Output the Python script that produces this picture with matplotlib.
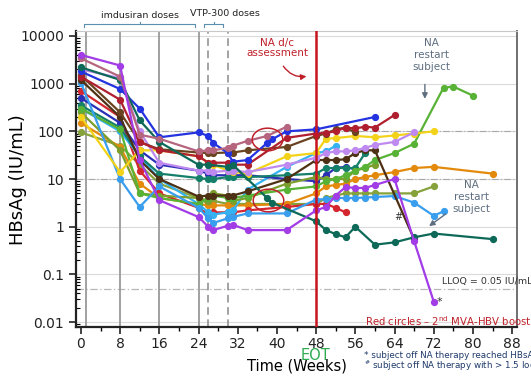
import matplotlib
matplotlib.use("Agg")
import matplotlib.pyplot as plt
import numpy as np
from matplotlib.path import Path
from matplotlib.ticker import FixedLocator, FixedFormatter, LogLocator, NullFormatter, MultipleLocator

n = None
weeks = [0, 8, 12, 16, 24, 26, 27, 30, 31, 34, 38, 39, 42, 48, 50, 52, 54, 56, 58, 60, 64, 68, 72, 74, 76, 80, 84]

#                 0     8     12   16   24   26   27   30    31   34    38   39   42    48   50   52   54   56   58   60   64   68    72     74   76   80   84
purple_star   = [4000, 2400, 25,  3.6, 1.6, 1.0, 0.85, 1.05, 1.1, 0.85, n,   n,   0.85, 2.2, 2.6, 4.5, 6.8, 6.5, 6.5, 7.5, 10,  0.5,  0.027, n,   n,   n,   n]
mauve         = [3400, 1400, 85,  70,  38,  40,  40,   45,   50,  63,   80,  n,   125,  n,   n,   n,   n,   n,   n,   n,   n,   n,    n,     n,   n,   n,   n]
teal_restart  = [2200, 1200, 170, 60,  20,  20,  n,    18,   20,  n,    4,   3.2, n,    1.3, 0.85,0.7, 0.6, 1.0, n,   0.42,0.47,0.6,  0.72,  n,   n,   n,   0.55]
blue          = [1800, 770,  300, 75,  95,  80,  57,   35,   23,  25,   57,  68,  100,  110, n,   n,   n,   n,   n,   200, n,   n,    n,     n,   n,   n,   n]
darkred       = [1400, 460,  60,  40,  30,  22,  22,   22,   20,  20,   n,   n,   73,   90,  93,  100, 120, 115, 125, 120, 220, n,    n,     n,   n,   n,   n]
brown         = [1500, 250,  60,  42,  36,  35,  35,   36,   36,  40,   n,   n,   47,   80,  90,  110, 120, 95,  n,   n,   n,   n,    n,     n,   n,   n,   n]
lavender      = [2000, 1300, 100, 22,  15,  15,  14,   15,   15,  14,   n,   n,   20,   28,  35,  38,  38,  40,  45,  52,  60,  95,   n,     n,   n,   n,   n]
yellow        = [200,  14,   40,  40,  30,  22,  20,   15,   14,  13,   n,   n,   30,   35,  70,  72,  n,   80,  n,   75,  82,  90,   100,   n,   n,   n,   n]
lightblue     = [1050, 10,   2.6, 7,   2.5, 1.5, 1.2,  1.5,  1.6, 1.9,  n,   n,   1.9,  3.7, 3.8, 4.0, 4.0, 4.0, 4.1, 4.2, 4.4, 3.2,  1.7,   2.1, n,   n,   n]
skyblue       = [300,  100,  30,  10,  3,   2,   1.8,  2,    2.2, 6,    n,   n,   18,   35,  38,  50,  n,   n,   n,   n,   n,   n,    n,     n,   n,   n,   n]
orange        = [150,  47,   8,   4,   3,   2.8, 2.8,  2.8,  2.8, 2.8,  n,   n,   3,    5,   7,   7.5, 8,   10,  11,  12,  14,  17,   18,    n,   n,   n,   13]
green         = [300,  110,  5,   4,   3,   4,   4.5,  4,    4,   4.5,  n,   n,   6,    7,   9,   10,  12,  15,  18,  25,  35,  55,   n,     820, 870, 560, n]
olive         = [250,  40,   5,   4.5, 4,   3.5, 5,    4.5,  3.5, 4,    n,   n,   8,    11,  10,  10,  10,  15,  17,  20,  n,   n,    n,     n,   n,   n,   n]
olive2        = [95,   50,   20,  8,   4,   3,   3.5,  3,    3,   3,    n,   n,   3,    3,   4,   4.5, 5,   5,   5,   5,   5,   5,    7,     n,   n,   n,   n]
red           = [700,  200,  15,  5,   2.5, 1.8, 2,    2,    2,   2.2,  n,   n,   2.6,  3,   3,   2.5, 2,   n,   n,   n,   n,   n,    n,     n,   n,   n,   n]
teal2         = [350,  120,  30,  13,  10.5,10,  10,   11,   11,  11,   n,   n,   12,   13,  17,  17,  17,  17,  35,  n,   n,   n,    n,     n,   n,   n,   n]
darkbrown     = [1200, 200,  25,  10,  4.3, 4.5, 4.5,  4.5,  4.5, 5.5,  n,   n,   10,   25,  25,  25,  26,  35,  40,  40,  n,   0.55, n,     n,   n,   n,   n]
navy          = [500,  150,  40,  20,  15,  13,  12,   12,   12,  12,   n,   n,   10,   9,   12,  17,  18,  16,  n,   n,   n,   n,    n,     n,   n,   n,   n]

series = [
    (olive2, "#86A23A"), (orange, "#E38A0C"), (red, "#D4262E"), (skyblue, "#35B2F2"),
    (navy, "#2B2FB5"), (teal2, "#14806A"), (olive, "#7C9E2C"), (green, "#58B235"),
    (lightblue, "#3A9EEE"), (yellow, "#F3D21A"), (darkbrown, "#4E3014"), (lavender, "#BE8AF0"),
    (brown, "#6A4420"), (darkred, "#B01F30"), (blue, "#2433E0"), (teal_restart, "#0E6A58"),
    (mauve, "#B6657F"), (purple_star, "#A23CE6"),
]

y_ticks = [0.01, 0.1, 1, 10, 100, 1000, 10000]
y_labels = ["0.01", "0.1", "1", "10", "100", "1000", "10000"]
x_ticks = [0, 8, 16, 24, 32, 40, 48, 56, 64, 72, 80, 88]
dose_lines = [1, 8, 16, 24]
vtp_lines = [26, 30]
eot_week = 48
lloq = 0.05
boost_circles_x = [38, 38.2]
boost_circles_y = [69, 3.6]

W, H = 531, 376
fig = plt.figure(figsize=(W / 100, H / 100), dpi=100)
ax = fig.add_axes([76 / W, 1 - 327 / H, (517 - 76) / W, (327 - 31) / H])
ax.set_yscale("log")
ax.set_xlim(-1, 89)
ax.set_ylim(0.0079, 12700)

# grid
for yt in y_ticks:
    ax.axhline(yt, color="#DADADA", lw=0.8, zorder=0)
for yt in [10, 100]:
    ax.axhline(yt, color="#A8A8A8", lw=0.8, ls=(0, (6, 2, 1, 2)), zorder=0.5)
ax.axhline(lloq, color="#B8B8B8", lw=0.9, ls=(0, (6, 2, 1, 2)), zorder=0.5)

for xv in dose_lines:
    ax.axvline(xv, color="#9A9A9A", lw=1.3, zorder=1)
for xv in vtp_lines:
    ax.axvline(xv, color="#8A8A8A", lw=1.1, ls=(0, (5, 3)), zorder=1)

wk = np.array(weeks, dtype=float)
for vals, col in series:
    v = np.array([np.nan if x is None else x for x in vals], dtype=float)
    m = ~np.isnan(v)
    ax.plot(wk[m], v[m], "-o", color=col, lw=1.6, ms=4.2, zorder=3)

ax.axvline(eot_week, color="#C8141E", lw=1.8, zorder=4)

# ellipses
t = np.linspace(0, 2 * np.pi, 60)
ell = Path(np.column_stack([1.35 * np.cos(t), np.sin(t)]), closed=True)
ax.plot(boost_circles_x, boost_circles_y, ls="none", marker=ell, ms=22, mfc="none",
        mec="#C0202A", mew=1.1, zorder=5)

# ticks
ax.yaxis.set_major_locator(FixedLocator(y_ticks))
ax.yaxis.set_major_formatter(FixedFormatter(y_labels))
ax.yaxis.set_minor_locator(LogLocator(base=10, subs=np.arange(2, 10)))
ax.yaxis.set_minor_formatter(NullFormatter())
ax.set_xticks(x_ticks)
ax.xaxis.set_minor_locator(MultipleLocator(4))
ax.tick_params(axis="both", which="major", labelsize=10, length=5, width=1.2, direction="out", colors="#222222")
ax.tick_params(axis="x", which="major", pad=2.5)
ax.tick_params(axis="y", which="minor", length=3, width=0.8, direction="in")
ax.tick_params(axis="x", which="minor", length=3, width=1.0, direction="out")
for s in ["left", "bottom"]:
    ax.spines[s].set_linewidth(1.6)
    ax.spines[s].set_color("#222222")
ax.spines["top"].set_color("#C8C8C8")
ax.spines["right"].set_color("#707070")
ax.spines["right"].set_linewidth(1.4)

# labels
fig.text(18 / W, 1 - 180 / H, "HBsAg (IU/mL)", rotation=90, ha="center", va="center", fontsize=13)
fig.text(297 / W, 1 - 366 / H, "Time (Weeks)", ha="center", va="center", fontsize=10.5)
fig.text(316 / W, 1 - 355.5 / H, "EOT", ha="center", va="center", fontsize=10.5, color="#2EAA50")
fig.text(364 / W, 1 - 355 / H, "* subject off NA therapy reached HBsAg loss", ha="left", va="center",
         fontsize=6.3, color="#1E3A6A")
fig.text(364 / W, 1 - 366 / H, "$^{\\#}$ subject off NA therapy with > 1.5 log decline", ha="left", va="center",
         fontsize=6.3, color="#1E3A6A")

# top brackets
bc = "#5A8FB0"
fig.text(140 / W, 1 - 15 / H, "imdusiran doses", ha="center", va="center", fontsize=6.8, color="#222222")
fig.text(225 / W, 1 - 14 / H, "VTP-300 doses", ha="center", va="center", fontsize=6.8, color="#222222")
def bracket(x0, x1, y):
    fig.add_artist(plt.Line2D([x0 / W, x0 / W, x1 / W, x1 / W], [1 - (y + 3) / H, 1 - y / H, 1 - y / H, 1 - (y + 3) / H],
                              color=bc, lw=0.8))
    xm = (x0 + x1) / 2
    fig.add_artist(plt.Line2D([xm / W, xm / W], [1 - y / H, 1 - (y - 2) / H], color=bc, lw=0.8))
bracket(84, 195, 24)
bracket(204, 223, 24)

# annotations
ax.text(40, 5600, "NA d/c\nassessment", ha="center", va="center", fontsize=7.5, color="#C0202A", linespacing=1.1)
ax.annotate("", xy=(46.6, 1450), xytext=(41, 2600),
            arrowprops=dict(arrowstyle="-|>", color="#C0202A", lw=1.0, connectionstyle="arc3,rad=0.35", mutation_scale=8))
ax.text(71.6, 4000, "NA\nrestart\nsubject", ha="center", va="center", fontsize=7.5, color="#5E6E80", linespacing=1.25)
ax.annotate("", xy=(70.2, 420), xytext=(70.2, 1100),
            arrowprops=dict(arrowstyle="-|>", color="#5E6E80", lw=1.0, mutation_scale=8))
ax.text(79.8, 4.2, "NA\nrestart\nsubject", ha="center", va="center", fontsize=7.5, color="#5E6E80", linespacing=1.25)
ax.annotate("", xy=(70.6, 0.95), xytext=(74.9, 2.0),
            arrowprops=dict(arrowstyle="-|>", color="#5E6E80", lw=1.0, mutation_scale=8))
ax.text(64.7, 1.6, "#", ha="center", va="center", fontsize=7, color="#333333")
ax.text(73.2, 0.027, "*", ha="center", va="center", fontsize=8, color="#333333")
ax.text(73.7, 0.07, "LLOQ = 0.05 IU/mL", ha="left", va="center", fontsize=6.8, color="#333333", clip_on=False)
ax.text(58, 0.0105, "Red circles \u2013 2$^{\\mathrm{nd}}$ MVA-HBV boost dose", ha="left", va="center",
        fontsize=7.3, color="#C0202A", clip_on=False)

fig.savefig("out.png", dpi=100)
